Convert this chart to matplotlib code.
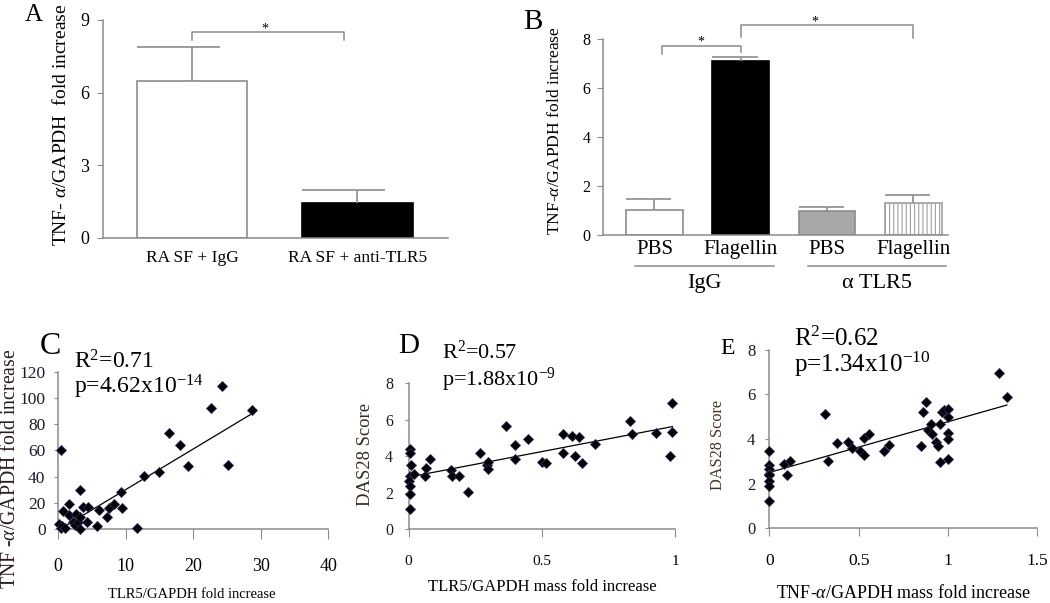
import numpy as np
import matplotlib
matplotlib.use('Agg')
import matplotlib.pyplot as plt

plt.rcParams['font.family'] = ['Liberation Serif', 'DejaVu Serif']
plt.rcParams['mathtext.fontset'] = 'custom'
plt.rcParams['mathtext.rm'] = 'Liberation Serif'
plt.rcParams['mathtext.it'] = 'Liberation Serif:italic'
plt.rcParams['hatch.linewidth'] = 0.8

# ---- data ----
# panel A
a_groups = ['RA SF + IgG', 'RA SF + anti-TLR5']
a_means = [6.49, 1.43]
a_err = [1.41, 0.55]

# panel B
b_labels = ['PBS', 'Flagellin', 'PBS', 'Flagellin']
b_means = [1.02, 7.11, 0.99, 1.30]
b_err = [0.45, 0.17, 0.165, 0.33]
b_groups = ['IgG', 'α TLR5']

# panel C  (TLR5/GAPDH vs TNF-a/GAPDH)
c_x = [0.1, 0.4, 0.6, 1.0, 0.7, 1.6, 1.7, 2.2, 2.5, 2.6, 2.9, 3.2, 3.3, 3.3, 3.7, 4.3,
       4.4, 5.8, 6.1, 7.3, 7.6, 8.3, 9.3, 9.4, 11.7, 12.8, 14.9, 16.5, 18.1, 19.3,
       22.6, 24.3, 25.2, 28.7, 0.4]
c_y = [4, 0.8, 2, 1, 14, 11, 19, 5.3, 2.8, 11.6, 5.3, 0.3, 9.1, 29.4, 16.7, 5.3,
       16.7, 2.3, 14.2, 9.1, 16.2, 19.2, 28.6, 16.2, 0.8, 40.8, 43.8, 73.2, 64, 48,
       92, 109, 49, 91, 60.5]
c_fit = (3.1, -1.0)        # slope, intercept
c_fit_range = (1.2, 28.8)

# panel D  (TLR5 mass vs DAS28)
d_x = [0.004, 0.004, 0.01, 0.006, 0.003, 0.004, 0.02, 0.004, 0.004, 0.0625, 0.066,
       0.079, 0.159, 0.165, 0.19, 0.224, 0.27, 0.296, 0.30, 0.30, 0.366, 0.40, 0.40,
       0.45, 0.50, 0.516, 0.58, 0.58, 0.615, 0.64, 0.625, 0.65, 0.70, 0.83, 0.84,
       0.93, 0.99, 0.99, 0.98]
d_y = [4.4, 4.15, 3.5, 2.9, 2.65, 2.35, 3.0, 1.9, 1.1, 2.9, 3.35, 3.85, 3.25, 2.9,
       2.9, 2.05, 4.2, 3.5, 3.7, 3.3, 5.65, 4.6, 3.85, 4.95, 3.7, 3.65, 4.15, 5.2,
       5.1, 5.05, 4.0, 3.65, 4.65, 5.95, 5.2, 5.25, 6.9, 5.35, 4.0]
d_fit = (2.8, 2.85)
d_fit_range = (0.02, 0.99)

# panel E  (TNF-a mass vs DAS28)
e_x = [0, 0, 0, 0, 0, 0, 0, 0, 0.084, 0.115, 0.10, 0.31, 0.33, 0.377, 0.44, 0.465,
       0.51, 0.53, 0.53, 0.56, 0.64, 0.67, 0.85, 0.86, 0.875, 0.89, 0.905, 0.91,
       0.935, 0.945, 0.955, 0.955, 0.965, 0.975, 1.0, 1.0, 1.0, 1.0, 1.0, 1.285, 1.33]
e_y = [3.45, 2.85, 2.65, 2.45, 2.4, 2.1, 1.9, 1.2, 2.9, 3.0, 2.4, 5.1, 3.0, 3.8,
       3.85, 3.6, 3.45, 3.3, 4.05, 4.2, 3.45, 3.75, 3.7, 5.2, 5.65, 4.4, 4.65, 4.2,
       3.85, 3.7, 2.95, 4.65, 5.2, 5.3, 5.35, 5.0, 4.25, 4.0, 3.1, 6.95, 5.9]
e_fit = (2.27, 2.5)
e_fit_range = (0.0, 1.33)

W, H = 1050, 603
GRAY = '#8c8c8c'
fig = plt.figure(figsize=(10.5, 6.03), dpi=100)


def px_axes(left, top, right, bottom):
    return fig.add_axes([left / W, 1 - bottom / H, (right - left) / W, (bottom - top) / H])


def px_text(x, y, s, **kw):
    fig.text(x / W, 1 - y / H, s, **kw)


def style(ax):
    for side in ['top', 'right']:
        ax.spines[side].set_visible(False)
    for side in ['left', 'bottom']:
        ax.spines[side].set_color(GRAY)
        ax.spines[side].set_linewidth(1.1)
    ax.patch.set_alpha(0)


# ---------------- A ----------------
axA = px_axes(103, 20, 448, 238)
style(axA)
xa = np.arange(len(a_means))
wa = 0.665
axA.bar(xa, a_means, wa, color=['white', 'black'], edgecolor=[GRAY, 'black'], linewidth=1.2)
tops = np.array(a_means) + np.array(a_err)
axA.vlines(xa, a_means, tops, color=GRAY, lw=1.2)
axA.hlines(tops, xa - wa / 2, xa + wa / 4, color=GRAY, lw=1.2)
axA.plot([0, 0, 0.918, 0.918], [8.18, 8.51, 8.51, 8.18], color=GRAY, lw=1.1, clip_on=False)
axA.text(0.44, 8.62, '*', ha='center', va='center', fontsize=10)
axA.set_xlim(-0.538, 1.547)
axA.set_ylim(0, 9)
axA.set_yticks([0, 3, 6, 9])
axA.set_xticks(xa, a_groups)
axA.tick_params(axis='x', length=0, pad=9, labelsize=12.5)
axA.tick_params(axis='y', length=4, color=GRAY, pad=6, labelsize=13)
px_text(61, 125, r'TNF- $\alpha$/GAPDH  fold increase', rotation=90, ha='center', va='center', fontsize=14)
px_text(34, 15, 'A', ha='center', va='center', fontsize=18)

# ---------------- B ----------------
axB = px_axes(603, 39, 948, 235)
style(axB)
xb = np.arange(len(b_means))
wb = 0.655
bars = axB.bar(xb, b_means, wb, color=['white', 'black', '#a8a8a8', 'white'],
               edgecolor=[GRAY, 'black', GRAY, '#a0a0a0'], linewidth=1.2)
bars[3].set_hatch('||||')
topsb = np.array(b_means) + np.array(b_err)
axB.vlines(xb, b_means, topsb, color=GRAY, lw=1.2)
axB.hlines(topsb, xb - wb / 2, xb + wb * 0.3, color=GRAY, lw=1.2)
axB.plot([0.087, 0.087, 1.008, 1.008], [7.39, 7.73, 7.73, 7.48], color=GRAY, lw=1.1, clip_on=False)
axB.plot([1.0, 1.0, 2.99, 2.99], [8.1, 8.57, 8.57, 8.05], color=GRAY, lw=1.1, clip_on=False)
axB.text(0.54, 7.88, '*', ha='center', va='center', fontsize=10)
axB.text(1.86, 8.70, '*', ha='center', va='center', fontsize=10)
axB.set_xlim(-0.595, 3.40)
axB.set_ylim(0, 8)
axB.set_yticks([0, 2, 4, 6, 8])
axB.set_xticks(xb, b_labels)
axB.tick_params(axis='x', length=0, pad=3.5, labelsize=15)
axB.tick_params(axis='y', length=4, color=GRAY, pad=5, labelsize=11.5)
for gi, name in enumerate(b_groups):
    gc = xb[2 * gi:2 * gi + 2].mean() + 0.08
    axB.plot([gc - 0.8, gc + 0.8], [-1.265, -1.265], color=GRAY, lw=1.1, clip_on=False)
    axB.text(gc, -1.96, name, ha='center', va='center', fontsize=16)
px_text(555, 131, r'TNF-$\alpha$/GAPDH fold increase', rotation=90, ha='center', va='center', fontsize=12.6)
px_text(533, 22, 'B', ha='center', va='center', fontsize=21)


# ---------------- scatter panels ----------------
def scatter_panel(ax, xs, ys, fit, fit_range, xlim, ylim, xticks, yticks, xfmt):
    style(ax)
    ax.plot(xs, ys, ls='none', marker='D', ms=4.9, mfc='black', mec='#2b2b5e', mew=0.6,
            clip_on=False, zorder=3)
    fx = np.array(fit_range)
    ax.plot(fx, fit[0] * fx + fit[1], color='black', lw=0.9, zorder=2)
    ax.set_xlim(*xlim)
    ax.set_ylim(*ylim)
    ax.set_xticks(xticks, [xfmt(t) for t in xticks])
    ax.set_yticks(yticks)


axC = px_axes(58, 371.7, 328.3, 529)
scatter_panel(axC, c_x, c_y, c_fit, c_fit_range, (0, 40), (0, 120),
              [0, 10, 20, 30, 40], [0, 20, 40, 60, 80, 100, 120], lambda t: f'{t:g}')
axC.tick_params(axis='x', length=7, color=GRAY, pad=14, labelsize=13)
axC.tick_params(axis='y', length=3, color=GRAY, pad=6, labelsize=12.5, labelcolor='#1c1c30')
px_text(11, 469, r'TNF -$\alpha$/GAPDH fold increase', rotation=90, ha='center', va='center',
        fontsize=14.2, color='#2a1a22')
px_text(192, 595, 'TLR5/GAPDH fold increase', ha='center', va='center', fontsize=10.5)
px_text(50, 347, 'C', ha='center', va='center', fontsize=23)
px_text(74, 362, r'R$^{\mathrm{2}}$=0.71', ha='left', va='center', fontsize=17)
px_text(74, 387, r'p=4.62x10$^{\mathrm{-14}}$', ha='left', va='center', fontsize=17)

axD = px_axes(408.5, 383.3, 675, 529)
scatter_panel(axD, d_x, d_y, d_fit, d_fit_range, (0, 1), (0, 8),
              [0, 0.5, 1], [0, 2, 4, 6, 8], lambda t: f'{t:g}')
axD.tick_params(axis='x', length=6, color=GRAY, pad=13, labelsize=11)
axD.tick_params(axis='y', length=3, color=GRAY, pad=8, labelsize=11.5, labelcolor='#1c1c30')
px_text(366, 455, 'DAS28 Score', rotation=90, ha='center', va='center', fontsize=13.4, color='#3b2a1e')
px_text(542, 587, 'TLR5/GAPDH mass fold increase', ha='center', va='center', fontsize=12)
px_text(409, 346, 'D', ha='center', va='center', fontsize=21)
px_text(442, 352, r'R$^{\mathrm{2}}$=0.57', ha='left', va='center', fontsize=16)
px_text(442, 380, r'p=1.88x10$^{\mathrm{-9}}$', ha='left', va='center', fontsize=16)

axE = px_axes(769.3, 349.6, 1037.3, 528.3)
scatter_panel(axE, e_x, e_y, e_fit, e_fit_range, (0, 1.5), (0, 8),
              [0, 0.5, 1, 1.5], [0, 2, 4, 6, 8], lambda t: f'{t:g}')
axE.tick_params(axis='x', length=6, color=GRAY, pad=12, labelsize=12.5)
axE.tick_params(axis='y', length=3, color=GRAY, pad=7, labelsize=12, labelcolor='#1c1c30')
px_text(718, 445, 'DAS28 Score', rotation=90, ha='center', va='center', fontsize=11.7, color='#4a3020')
px_text(904, 593, r'TNF-$\alpha$/GAPDH mass fold increase', ha='center', va='center', fontsize=13)
px_text(728, 348, 'E', ha='center', va='center', fontsize=17)
px_text(794, 339, r'R$^{\mathrm{2}}$=0.62', ha='left', va='center', fontsize=18)
px_text(794, 364, r'p=1.34x10$^{\mathrm{-10}}$', ha='left', va='center', fontsize=18)

fig.savefig('out.png', dpi=100)
